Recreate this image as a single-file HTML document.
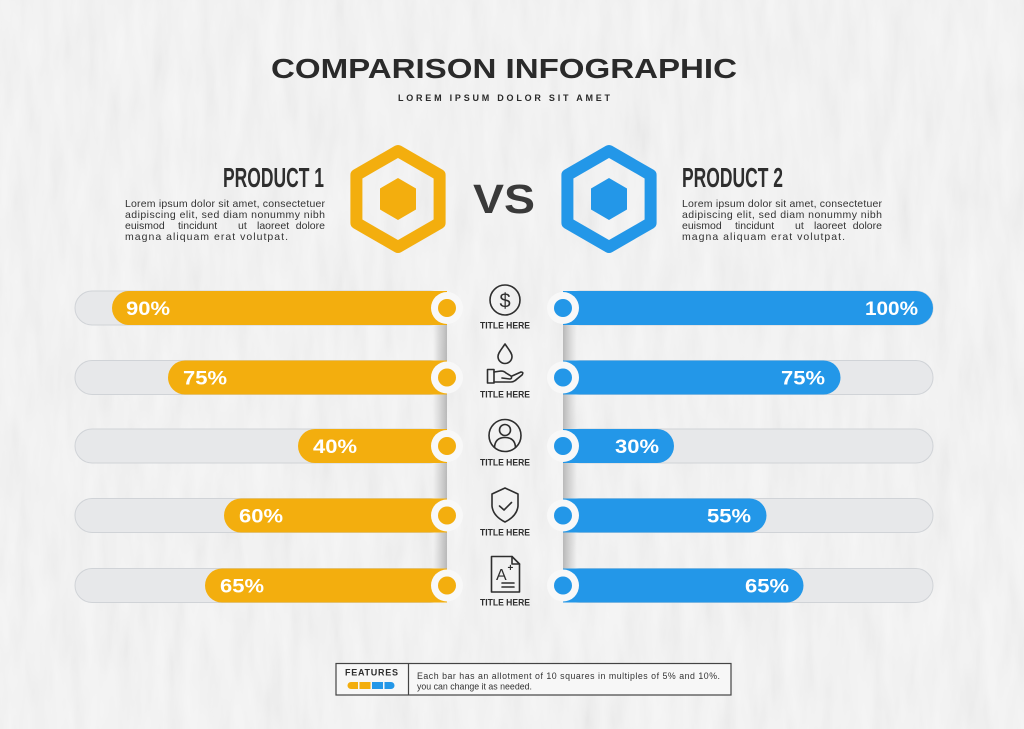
<!DOCTYPE html>
<html>
<head>
<meta charset="utf-8">
<style>
  html,body{margin:0;padding:0;background:#f3f3f3;}
  svg{display:block;}
  text{font-family:"Liberation Sans",sans-serif;}
</style>
</head>
<body>
<svg width="1024" height="729" viewBox="0 0 1024 729" xmlns="http://www.w3.org/2000/svg">
  <defs>
    <filter id="tex" x="0" y="0" width="100%" height="100%">
      <feTurbulence type="fractalNoise" baseFrequency="0.06 0.012" numOctaves="3" seed="7"/>
      <feColorMatrix type="matrix" values="1 0 0 0 0  1 0 0 0 0  1 0 0 0 0  0 0 0 0 1"/>
    </filter>
    <linearGradient id="shL" x1="0" x2="1" y1="0" y2="0">
      <stop offset="0" stop-color="#9a9a9a" stop-opacity="0"/>
      <stop offset="1" stop-color="#8a8a8a" stop-opacity="0.55"/>
    </linearGradient>
    <linearGradient id="shR" x1="0" x2="1" y1="0" y2="0">
      <stop offset="0" stop-color="#8a8a8a" stop-opacity="0.55"/>
      <stop offset="1" stop-color="#9a9a9a" stop-opacity="0"/>
    </linearGradient>
  </defs>

  <!-- background -->
  <rect x="0" y="0" width="1024" height="729" fill="#f6f6f6"/>
  <rect x="0" y="0" width="1024" height="729" filter="url(#tex)" opacity="0.07"/>

  <!-- Title -->
  <text x="271" y="78" font-size="28" font-weight="bold" fill="#2a2a2a" textLength="466" lengthAdjust="spacingAndGlyphs">COMPARISON INFOGRAPHIC</text>
  <text x="398" y="101" font-size="9" font-weight="bold" fill="#2a2a2a" textLength="212" lengthAdjust="spacing">LOREM IPSUM DOLOR SIT AMET</text>

  <!-- Product 1 -->
  <text x="223" y="187" font-size="28" font-weight="bold" fill="#2e2e2e" textLength="101" lengthAdjust="spacingAndGlyphs">PRODUCT 1</text>
  <g font-size="10.5" fill="#333">
    <text x="125" y="207" textLength="200" lengthAdjust="spacing">Lorem ipsum dolor sit amet, consectetuer</text>
    <text x="125" y="218" textLength="200" lengthAdjust="spacing">adipiscing elit, sed diam nonummy nibh</text>
    <text x="125" y="229">euismod</text>
    <text x="178" y="229">tincidunt</text>
    <text x="238" y="229">ut</text>
    <text x="257" y="229">laoreet</text>
    <text x="325" y="229" text-anchor="end">dolore</text>
    <text x="125" y="240" textLength="163" lengthAdjust="spacing">magna aliquam erat volutpat.</text>
  </g>

  <!-- Product 2 -->
  <text x="682" y="187" font-size="28" font-weight="bold" fill="#2e2e2e" textLength="101" lengthAdjust="spacingAndGlyphs">PRODUCT 2</text>
  <g font-size="10.5" fill="#333">
    <text x="682" y="207" textLength="200" lengthAdjust="spacing">Lorem ipsum dolor sit amet, consectetuer</text>
    <text x="682" y="218" textLength="200" lengthAdjust="spacing">adipiscing elit, sed diam nonummy nibh</text>
    <text x="682" y="229">euismod</text>
    <text x="735" y="229">tincidunt</text>
    <text x="795" y="229">ut</text>
    <text x="814" y="229">laoreet</text>
    <text x="882" y="229" text-anchor="end">dolore</text>
    <text x="682" y="240" textLength="163" lengthAdjust="spacing">magna aliquam erat volutpat.</text>
  </g>

  <!-- Hexagons -->
  <g transform="translate(398,199)">
    <polygon points="0,-48 41.6,-24 41.6,24 0,48 -41.6,24 -41.6,-24" fill="none" stroke="#F3AE0E" stroke-width="12" stroke-linejoin="round"/>
    <polygon points="0,-21 18,-10.5 18,10.5 0,21 -18,10.5 -18,-10.5" fill="#F3AE0E"/>
  </g>
  <g transform="translate(609,199)">
    <polygon points="0,-48 41.6,-24 41.6,24 0,48 -41.6,24 -41.6,-24" fill="none" stroke="#2397E8" stroke-width="12" stroke-linejoin="round"/>
    <polygon points="0,-21 18,-10.5 18,10.5 0,21 -18,10.5 -18,-10.5" fill="#2397E8"/>
  </g>

  <!-- VS -->
  <text x="473" y="213" font-size="41" font-weight="bold" fill="#3a3a3a" textLength="62" lengthAdjust="spacingAndGlyphs">VS</text>

  <!-- Vertical fold shadows -->
  <g>
    <rect x="433" y="325" width="14" height="36" fill="url(#shL)"/>
    <rect x="433" y="394.5" width="14" height="34.5" fill="url(#shL)"/>
    <rect x="433" y="463" width="14" height="35.5" fill="url(#shL)"/>
    <rect x="433" y="532.5" width="14" height="36" fill="url(#shL)"/>
    <rect x="563" y="325" width="14" height="36" fill="url(#shR)"/>
    <rect x="563" y="394.5" width="14" height="34.5" fill="url(#shR)"/>
    <rect x="563" y="463" width="14" height="35.5" fill="url(#shR)"/>
    <rect x="563" y="532.5" width="14" height="36" fill="url(#shR)"/>
  </g>

  <!-- Tracks -->
  <g fill="#e7e8ea" stroke="#d0d3d7" stroke-width="1">
    <rect x="75" y="291" width="372" height="34" rx="17"/>
    <rect x="75" y="360.5" width="372" height="34" rx="17"/>
    <rect x="75" y="429" width="372" height="34" rx="17"/>
    <rect x="75" y="498.5" width="372" height="34" rx="17"/>
    <rect x="75" y="568.5" width="372" height="34" rx="17"/>
    <rect x="563" y="291" width="370" height="34" rx="17"/>
    <rect x="563" y="360.5" width="370" height="34" rx="17"/>
    <rect x="563" y="429" width="370" height="34" rx="17"/>
    <rect x="563" y="498.5" width="370" height="34" rx="17"/>
    <rect x="563" y="568.5" width="370" height="34" rx="17"/>
  </g>

  <!-- Left fills (yellow) -->
  <g fill="#F3AE0E">
    <path d="M447 291 L129 291 A17 17 0 0 0 129 325 L447 325 Z"/>
    <path d="M447 360.5 L185 360.5 A17 17 0 0 0 185 394.5 L447 394.5 Z"/>
    <path d="M447 429 L315 429 A17 17 0 0 0 315 463 L447 463 Z"/>
    <path d="M447 498.5 L241 498.5 A17 17 0 0 0 241 532.5 L447 532.5 Z"/>
    <path d="M447 568.5 L222 568.5 A17 17 0 0 0 222 602.5 L447 602.5 Z"/>
  </g>
  <!-- Right fills (blue) -->
  <g fill="#2397E8">
    <path d="M563 291 L916 291 A17 17 0 0 1 916 325 L563 325 Z"/>
    <path d="M563 360.5 L823.5 360.5 A17 17 0 0 1 823.5 394.5 L563 394.5 Z"/>
    <path d="M563 429 L657 429 A17 17 0 0 1 657 463 L563 463 Z"/>
    <path d="M563 498.5 L749.5 498.5 A17 17 0 0 1 749.5 532.5 L563 532.5 Z"/>
    <path d="M563 568.5 L786.5 568.5 A17 17 0 0 1 786.5 602.5 L563 602.5 Z"/>
  </g>

  <!-- Percent labels -->
  <g font-size="19" font-weight="bold" fill="#ffffff">
    <text x="126" y="315" textLength="44" lengthAdjust="spacingAndGlyphs">90%</text>
    <text x="183" y="384.5" textLength="44" lengthAdjust="spacingAndGlyphs">75%</text>
    <text x="313" y="453" textLength="44" lengthAdjust="spacingAndGlyphs">40%</text>
    <text x="239" y="522.5" textLength="44" lengthAdjust="spacingAndGlyphs">60%</text>
    <text x="220" y="592.5" textLength="44" lengthAdjust="spacingAndGlyphs">65%</text>

    <text x="865" y="315" textLength="53" lengthAdjust="spacingAndGlyphs">100%</text>
    <text x="781" y="384.5" textLength="44" lengthAdjust="spacingAndGlyphs">75%</text>
    <text x="615" y="453" textLength="44" lengthAdjust="spacingAndGlyphs">30%</text>
    <text x="707" y="522.5" textLength="44" lengthAdjust="spacingAndGlyphs">55%</text>
    <text x="745" y="592.5" textLength="44" lengthAdjust="spacingAndGlyphs">65%</text>
  </g>

  <!-- Notch rings & dots -->
  <g fill="#f8f8f8">
    <circle cx="447" cy="308" r="16"/>
    <circle cx="447" cy="377.5" r="16"/>
    <circle cx="447" cy="446" r="16"/>
    <circle cx="447" cy="515.5" r="16"/>
    <circle cx="447" cy="585.5" r="16"/>
    <circle cx="563" cy="308" r="16"/>
    <circle cx="563" cy="377.5" r="16"/>
    <circle cx="563" cy="446" r="16"/>
    <circle cx="563" cy="515.5" r="16"/>
    <circle cx="563" cy="585.5" r="16"/>
  </g>
  <g fill="#F3AE0E">
    <circle cx="447" cy="308" r="9"/>
    <circle cx="447" cy="377.5" r="9"/>
    <circle cx="447" cy="446" r="9"/>
    <circle cx="447" cy="515.5" r="9"/>
    <circle cx="447" cy="585.5" r="9"/>
  </g>
  <g fill="#2397E8">
    <circle cx="563" cy="308" r="9"/>
    <circle cx="563" cy="377.5" r="9"/>
    <circle cx="563" cy="446" r="9"/>
    <circle cx="563" cy="515.5" r="9"/>
    <circle cx="563" cy="585.5" r="9"/>
  </g>

  <!-- Center icons -->
  <g fill="none" stroke="#2e2e2e" stroke-width="1.6" stroke-linecap="round" stroke-linejoin="round">
    <circle cx="505" cy="300" r="15"/>
    <path d="M505 344 C501 350 498 353 498 356.5 A7 7 0 0 0 512 356.5 C512 353 509 350 505 344 Z"/>
    <rect x="487.5" y="369.5" width="6.5" height="13.5"/>
    <path d="M494 372 L501 371 Q504 371 506 373 L511 376 Q512.5 378.5 510 379 L502 378"/>
    <path d="M494 382 L511 382 Q514 382 517 379 L522 375 Q524 372 521 372 L512 376"/>
    <circle cx="505" cy="435.5" r="16"/>
    <circle cx="505" cy="430" r="5.5"/>
    <path d="M494.5 447.5 Q495 437.5 505 437.5 Q515 437.5 515.5 447.5"/>
    <path d="M505 488 L518 494 L518 506 Q517 516 505 522 Q493 516 492 506 L492 494 Z"/>
    <path d="M499.5 506 L504 510 L511.5 502.5"/>
    <path d="M491.5 556.5 L512 556.5 L519.5 564 L519.5 592 L491.5 592 Z"/>
    <path d="M512 556.5 L512 564 L519.5 564"/>
    <path d="M502 583 L514 583 M502 587 L514 587"/>
  </g>
  <text x="505" y="307.5" font-size="20" fill="#2e2e2e" text-anchor="middle">$</text>
  <text x="496" y="580" font-size="16" fill="#2e2e2e">A</text>
  <text x="507.5" y="571" font-size="10" font-weight="bold" fill="#2e2e2e">+</text>

  <g font-size="9.5" font-weight="bold" fill="#2e2e2e">
    <text x="480" y="328.5" textLength="50" lengthAdjust="spacingAndGlyphs">TITLE HERE</text>
    <text x="480" y="397.5" textLength="50" lengthAdjust="spacingAndGlyphs">TITLE HERE</text>
    <text x="480" y="465.5" textLength="50" lengthAdjust="spacingAndGlyphs">TITLE HERE</text>
    <text x="480" y="535.5" textLength="50" lengthAdjust="spacingAndGlyphs">TITLE HERE</text>
    <text x="480" y="605.5" textLength="50" lengthAdjust="spacingAndGlyphs">TITLE HERE</text>
  </g>

  <!-- Footer box -->
  <rect x="336" y="663.5" width="395" height="31.5" fill="#f7f7f7" stroke="#444" stroke-width="1.2"/>
  <line x1="408.5" y1="663.5" x2="408.5" y2="695" stroke="#444" stroke-width="1.2"/>
  <text x="345" y="675.5" font-size="9" font-weight="bold" fill="#2e2e2e" textLength="53" lengthAdjust="spacing">FEATURES</text>
  <path d="M351 682 H358 V689 H351 A3.5 3.5 0 0 1 351 682 Z" fill="#F3AE0E"/>
  <rect x="359.5" y="682" width="11" height="7" fill="#F3AE0E"/>
  <rect x="372" y="682" width="11" height="7" fill="#2397E8"/>
  <path d="M384.5 682 H391 A3.5 3.5 0 0 1 391 689 H384.5 Z" fill="#2397E8"/>
  <g font-size="8.8" fill="#333">
    <text x="417" y="679" textLength="303" lengthAdjust="spacing">Each bar has an allotment of 10 squares in multiples of 5% and 10%.</text>
    <text x="417" y="689.5">you can change it as needed.</text>
  </g>
</svg>
</body>
</html>
